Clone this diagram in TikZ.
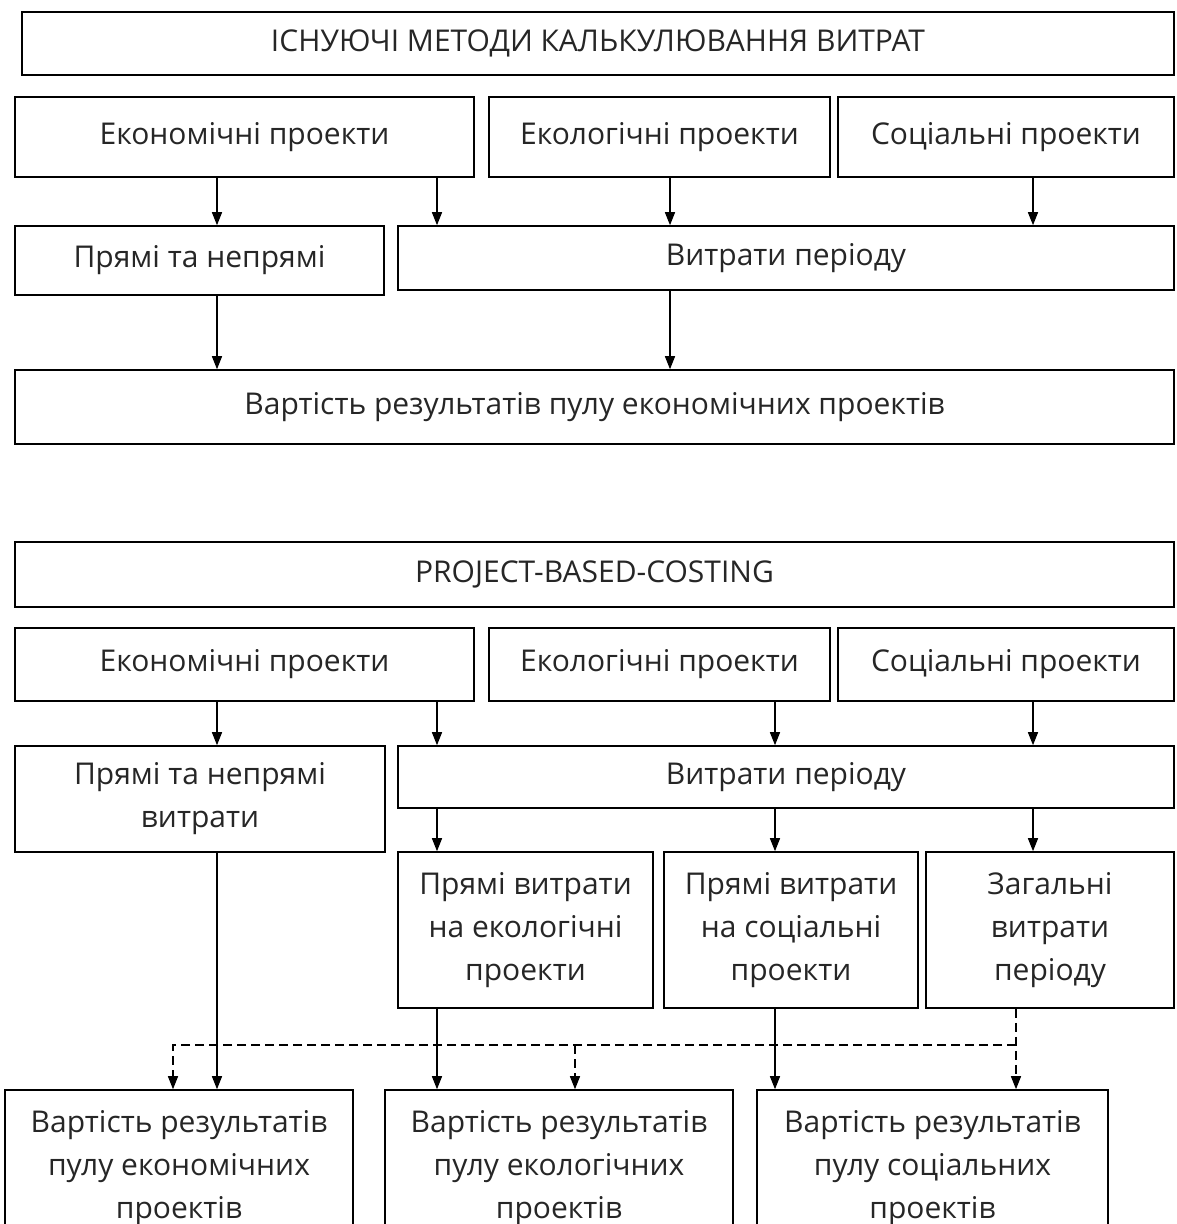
\documentclass[tikz,border=0pt]{standalone}
\usepackage{fontspec}
\setmainfont{Open Sans}
\usetikzlibrary{arrows.meta}

\begin{document}
\begin{tikzpicture}[x=1pt,y=-1pt,
	>={Triangle[length=13pt,width=10pt]},
	box/.style={draw,line width=1.6pt,inner sep=0pt,align=center,
		font=\fontsize{30}{43}\selectfont,text=black!85},
	arr/.style={->,line width=1.4pt},
	darr/.style={->,line width=1.4pt,dash pattern=on 9pt off 5pt}]
	\useasboundingbox (0,0) rectangle (1176,1224);
	\clip (0,0) rectangle (1176,1224);
	% columns of the connectors
	\coordinate (xa) at (217,0);
	\coordinate (xb) at (437,0);
	\coordinate (xc) at (670,0);
	\coordinate (xd) at (1033,0);
	\coordinate (xe) at (775,0);
	\coordinate (xf) at (173,0);
	\coordinate (xg) at (575,0);
	\coordinate (xh) at (1016,0);
	%% existing methods
	\node[box,minimum width=1152pt,minimum height=63pt] (t1) at (598,43.5) {ІСНУЮЧІ МЕТОДИ КАЛЬКУЛЮВАННЯ ВИТРАТ};
	\node[box,minimum width=459pt,minimum height=80pt] (e1) at (244.5,137) {Економічні проекти};
	\node[box,minimum width=341pt,minimum height=80pt] (k1) at (659.5,137) {Екологічні проекти};
	\node[box,minimum width=336pt,minimum height=80pt] (s1) at (1006,137) {Соціальні проекти};
	\node[box,minimum width=369pt,minimum height=69pt] (p1) at (199.5,260.5) {Прямі та непрямі};
	\node[box,minimum width=776pt,minimum height=64pt] (v1) at (786,258) {Витрати періоду};
	\node[box,minimum width=1159pt,minimum height=74pt] (r1) at (594.5,407) {Вартість результатів пулу економічних проектів};
	\draw[arr] (e1.south -| xa) -- (p1.north -| xa);
	\draw[arr] (e1.south -| xb) -- (v1.north -| xb);
	\draw[arr] (k1.south -| xc) -- (v1.north -| xc);
	\draw[arr] (s1.south -| xd) -- (v1.north -| xd);
	\draw[arr] (p1.south -| xa) -- (r1.north -| xa);
	\draw[arr] (v1.south -| xc) -- (r1.north -| xc);
	%% project-based costing
	\node[box,minimum width=1159pt,minimum height=65pt] (t2) at (594.5,574.5) {PROJECT-BASED-COSTING};
	\node[box,minimum width=459pt,minimum height=73pt] (e2) at (244.5,664.5) {Економічні проекти};
	\node[box,minimum width=341pt,minimum height=73pt] (k2) at (659.5,664.5) {Екологічні проекти};
	\node[box,minimum width=336pt,minimum height=73pt] (s2) at (1006,664.5) {Соціальні проекти};
	\node[box,minimum width=370pt,minimum height=106pt] (p2) at (200,799) {Прямі та непрямі\\витрати};
	\node[box,minimum width=776pt,minimum height=62pt] (v2) at (786,777) {Витрати періоду};
	\node[box,minimum width=255pt,minimum height=156pt] (a2) at (525.5,930) {Прямі витрати\\на екологічні\\проекти};
	\node[box,minimum width=254pt,minimum height=156pt] (b2) at (791,930) {Прямі витрати\\на соціальні\\проекти};
	\node[box,minimum width=248pt,minimum height=156pt] (c2) at (1050,930) {Загальні\\витрати\\періоду};
	\node[box,minimum width=348pt,minimum height=156pt] (re) at (179,1168) {Вартість результатів\\пулу економічних\\проектів};
	\node[box,minimum width=348pt,minimum height=156pt] (rk) at (559,1168) {Вартість результатів\\пулу екологічних\\проектів};
	\node[box,minimum width=351pt,minimum height=156pt] (rs) at (932.5,1168) {Вартість результатів\\пулу соціальних\\проектів};
	\draw[arr] (e2.south -| xa) -- (p2.north -| xa);
	\draw[arr] (e2.south -| xb) -- (v2.north -| xb);
	\draw[arr] (k2.south -| xe) -- (v2.north -| xe);
	\draw[arr] (s2.south -| xd) -- (v2.north -| xd);
	\draw[arr] (v2.south -| xb) -- (a2.north -| xb);
	\draw[arr] (v2.south -| xe) -- (b2.north -| xe);
	\draw[arr] (v2.south -| xd) -- (c2.north -| xd);
	\draw[arr] (p2.south -| xa) -- (re.north -| xa);
	\draw[arr] (a2.south -| xb) -- (rk.north -| xb);
	\draw[arr] (b2.south -| xe) -- (rs.north -| xe);
	% overheads split over the pools
	\coordinate (dh) at (1016,1045);
	\draw[darr] (c2.south -| xh) -- (rs.north -| xh);
	\draw[darr] (dh) -- (dh -| xf) -- (re.north -| xf);
	\draw[darr] (dh -| xg) -- (rk.north -| xg);
\end{tikzpicture}
\end{document}
